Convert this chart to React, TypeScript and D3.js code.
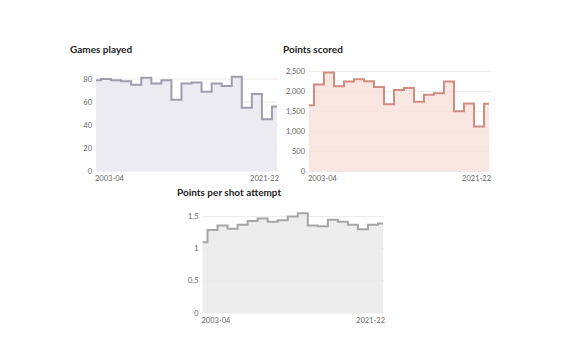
import React from "react";
import * as d3 from "d3";

const seasons = ["2003-04","2004-05","2005-06","2006-07","2007-08","2008-09","2009-10","2010-11","2011-12","2012-13","2013-14","2014-15","2015-16","2016-17","2017-18","2018-19","2019-20","2020-21","2021-22"];
const gamesPlayed = [79,80,79,78,75,81,76,79,62,76,77,69,76,74,82,55,67,45,56];
const pointsScored = [1654,2175,2478,2132,2250,2304,2258,2111,1683,2036,2089,1743,1920,1954,2251,1505,1698,1126,1695];
const pointsPerShot = [1.10,1.29,1.36,1.31,1.37,1.43,1.47,1.42,1.44,1.50,1.55,1.36,1.35,1.45,1.42,1.37,1.30,1.37,1.39];

const gamesTicks = [0,20,40,60,80];
const pointsTicks = [0,500,1000,1500,2000,2500];
const ppsTicks = [0,0.5,1,1.5];

type PanelProps = {
  title: string;
  values: number[];
  ticks: number[];
  domainTop: number;
  x0: number; x1: number; y0: number; y1: number;
  titleX: number; titleY: number;
  line: string; fill: string;
  fmt: (v: number) => string;
};

function Panel(p: PanelProps) {
  const x = d3.scalePoint<string>().domain(seasons).range([p.x0, p.x1]);
  const y = d3.scaleLinear().domain([0, p.domainTop]).range([p.y1, p.y0]);
  const data = seasons.map((s, i) => ({ s, v: p.values[i] }));
  const area = d3.area<{ s: string; v: number }>()
    .x(d => x(d.s) as number).y0(y(0)).y1(d => y(d.v)).curve(d3.curveStep);
  const line = d3.line<{ s: string; v: number }>()
    .x(d => x(d.s) as number).y(d => y(d.v)).curve(d3.curveStep);
  const font = "Lato, 'Noto Sans', sans-serif";
  return (
    <g>
      <text x={p.titleX} y={p.titleY} fontFamily={font} fontWeight={700} fontSize={10} fill="#222">{p.title}</text>
      {p.ticks.map(t => (
        <g key={t}>
          <line x1={p.x0} x2={p.x1 + 1} y1={y(t)} y2={y(t)} stroke="#ececec" strokeWidth={1} />
          <text x={p.x0 - 4} y={y(t)} dy="0.35em" textAnchor="end" fontFamily={font} fontSize={7.5} fill="#666">{p.fmt(t)}</text>
        </g>
      ))}
      <path d={area(data) || ""} fill={p.fill} fillOpacity={0.85} />
      <path d={line(data) || ""} fill="none" stroke={p.line} strokeWidth={2} />
      <text x={p.x0 - 1} y={p.y1 + 9.5} fontFamily={font} fontSize={7.5} fill="#666">{seasons[0]}</text>
      <text x={p.x1 + 2} y={p.y1 + 9.5} textAnchor="end" fontFamily={font} fontSize={7.5} fill="#666">{seasons[seasons.length - 1]}</text>
    </g>
  );
}

export default function App() {
  const comma = d3.format(",");
  return (
    <svg width={580} height={360} style={{ position: "absolute", left: 0, top: 0, background: "#fff" }}>
      <Panel title="Games played" values={gamesPlayed} ticks={gamesTicks} domainTop={80}
        x0={96} x1={277} y0={79} y1={171} titleX={70} titleY={53}
        line="#9f9dab" fill="#e8e7ee" fmt={v => String(v)} />
      <Panel title="Points scored" values={pointsScored} ticks={pointsTicks} domainTop={2500}
        x0={309} x1={489} y0={71.5} y1={171.5} titleX={283} titleY={53}
        line="#d18c80" fill="#f8e2dc" fmt={v => comma(v)} />
      <Panel title="Points per shot attempt" values={pointsPerShot} ticks={ppsTicks} domainTop={1.5}
        x0={202.5} x1={383} y0={216.5} y1={313} titleX={177} titleY={196}
        line="#a6a5a6" fill="#ebeaea" fmt={v => String(v)} />
    </svg>
  );
}
